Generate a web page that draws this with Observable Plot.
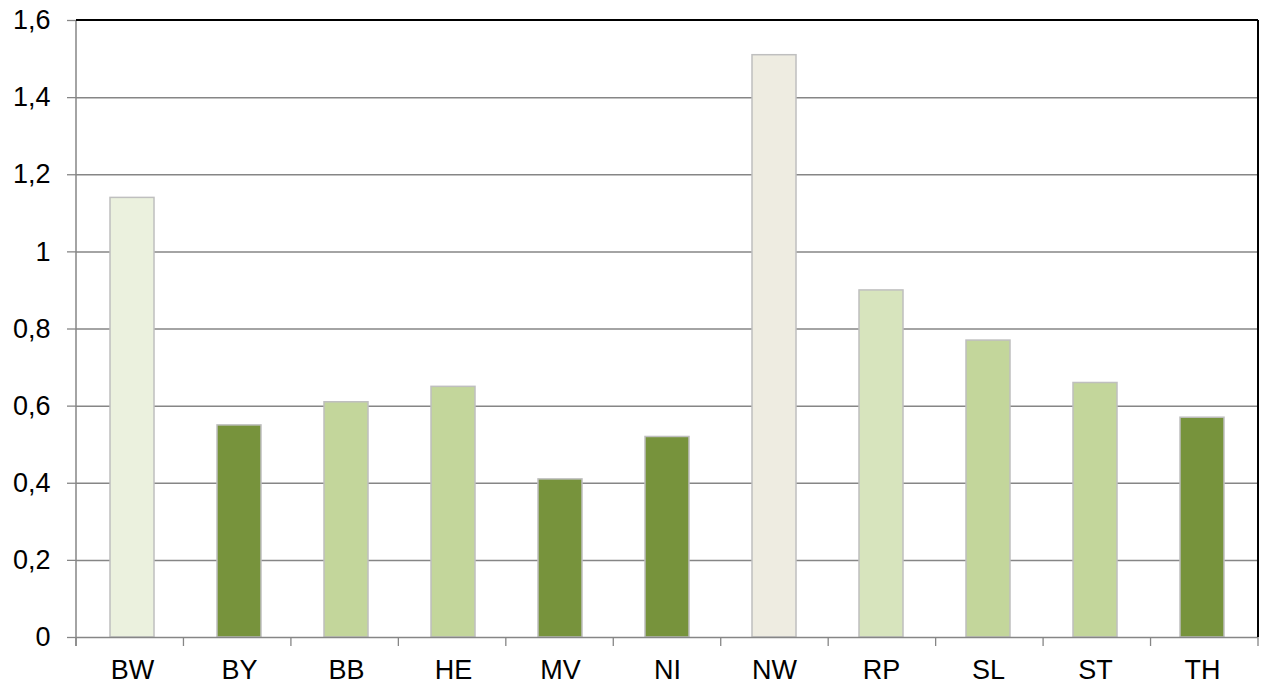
<!DOCTYPE html>
<html>
<head>
<meta charset="utf-8">
<script src="https://cdn.jsdelivr.net/npm/d3@7"></script>
<script src="https://cdn.jsdelivr.net/npm/@observablehq/plot@0.6"></script>
<style>
  html, body { margin: 0; padding: 0; background: #fff; }
  svg { display: block; }
</style>
</head>
<body>
<div id="chart"></div>
<script>
const categories = ["BW","BY","BB","HE","MV","NI","NW","RP","SL","ST","TH"];
const values = [1.14, 0.55, 0.61, 0.65, 0.41, 0.52, 1.51, 0.90, 0.77, 0.66, 0.57];
const barColors = ["#EBF1DE","#77933C","#C3D69B","#C3D69B","#77933C","#77933C","#EEECE1","#D7E4BD","#C3D69B","#C3D69B","#77933C"];
const yTicks = [0, 0.2, 0.4, 0.6, 0.8, 1, 1.2, 1.4, 1.6];

const data = categories.map((c, i) => ({cat: c, value: values[i], color: barColors[i]}));

const W = 1263, H = 687;
const mL = 76, mR = 5, mT = 20, mB = 50;
const pad = 0.59;
const gray = "#868686";
const font = "Liberation Sans, Arial, sans-serif";

function frameMark(index, scales, vals, dims) {
  const ns = "http://www.w3.org/2000/svg";
  const g = document.createElementNS(ns, "g");
  const left = dims.marginLeft, right = dims.width - dims.marginRight;
  const top = dims.marginTop, bottom = dims.height - dims.marginBottom;
  const step = (right - left) / categories.length;
  const line = (x1, y1, x2, y2, stroke, w) => {
    const l = document.createElementNS(ns, "line");
    l.setAttribute("x1", x1); l.setAttribute("y1", y1);
    l.setAttribute("x2", x2); l.setAttribute("y2", y2);
    l.setAttribute("stroke", stroke); l.setAttribute("stroke-width", w);
    g.appendChild(l);
  };
  for (let i = 0; i <= categories.length; i++) {
    const xp = left + i * step;
    line(xp, bottom, xp, bottom + 9, gray, 1.3);
  }
  line(left, top, left, bottom + 9, gray, 1.5);
  line(left, top, right, top, "#000", 2);
  line(right, top, right, bottom, "#000", 2);
  return g;
}

const chart = Plot.plot({
  width: W,
  height: H,
  marginLeft: mL,
  marginRight: mR,
  marginTop: mT,
  marginBottom: mB,
  style: {fontFamily: font, fontSize: "27px", color: "#000", background: "#fff"},
  x: {domain: categories, paddingInner: pad, paddingOuter: pad / 2, label: null},
  y: {domain: [0, 1.6], label: null},
  color: {type: "identity"},
  marks: [
    Plot.ruleY(yTicks.slice(1, -1), {stroke: gray, strokeWidth: 1.5}),
    Plot.barY(data, {x: "cat", y: "value", fill: "color", stroke: "#BFBFBF", strokeWidth: 1.5}),
    Plot.ruleY([0], {stroke: gray, strokeWidth: 1.5}),
    Plot.axisY({ticks: yTicks, tickSize: 9, tickPadding: 17, stroke: gray, strokeWidth: 1.3,
      tickFormat: d => String(d).replace(".", ","), fontSize: 27, fill: "#000", label: null}),
    Plot.axisX({tickSize: 0, tickPadding: 22, fontSize: 27, fill: "#000", label: null}),
    frameMark
  ]
});
document.getElementById("chart").appendChild(chart);
</script>
</body>
</html>
